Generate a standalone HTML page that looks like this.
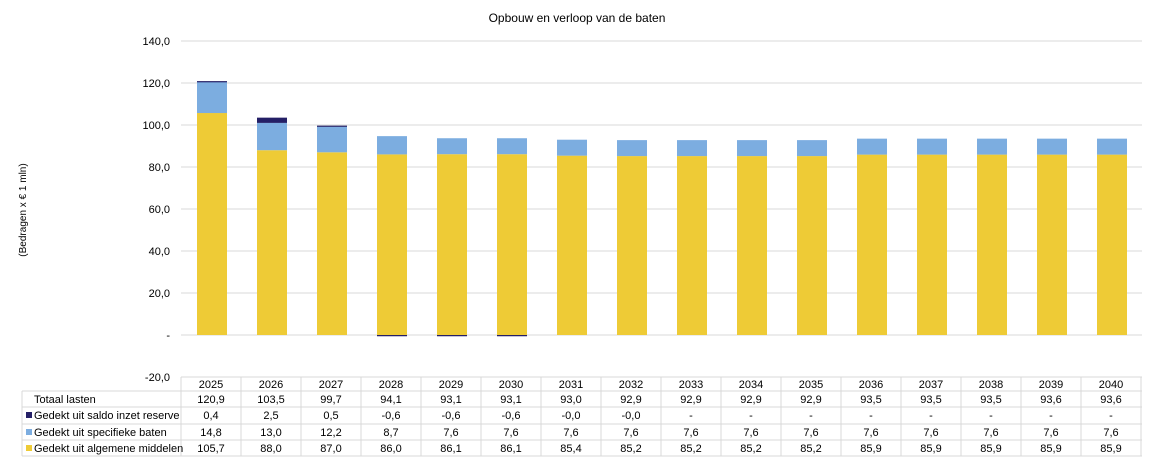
<!DOCTYPE html>
<html><head><meta charset="utf-8"><style>
body{margin:0;background:#fff;}
svg text{font-family:"Liberation Sans",Arial,sans-serif;font-size:11px;fill:#000;}
</style></head><body>
<svg id="s" width="1157" height="464" xmlns="http://www.w3.org/2000/svg">
<rect width="1157" height="464" fill="#fff"/>
<text x="577" y="22" text-anchor="middle" style="font-size:12px">Opbouw  en  verloop  van  de  baten</text>
<text transform="translate(26,210) rotate(-90)" text-anchor="middle" style="font-size:10px">(Bedragen x € 1 mln)</text>
<g id="g"></g>
</svg>
<script>
var yrs=[2025,2026,2027,2028,2029,2030,2031,2032,2033,2034,2035,2036,2037,2038,2039,2040];
var tot=["120,9","103,5","99,7","94,1","93,1","93,1","93,0","92,9","92,9","92,9","92,9","93,5","93,5","93,5","93,6","93,6"];
var res=[0.4,2.5,0.5,-0.6,-0.6,-0.6,-0.0,-0.0,null,null,null,null,null,null,null,null];
var resS=["0,4","2,5","0,5","-0,6","-0,6","-0,6","-0,0","-0,0","-","-","-","-","-","-","-","-"];
var spe=[14.8,13.0,12.2,8.7,7.6,7.6,7.6,7.6,7.6,7.6,7.6,7.6,7.6,7.6,7.6,7.6];
var alg=[105.7,88.0,87.0,86.0,86.1,86.1,85.4,85.2,85.2,85.2,85.2,85.9,85.9,85.9,85.9,85.9];
var h='';var Y=v=>335-v*2.1;
for(var v=140;v>=-20;v-=20){var y=Y(v);
 if(v>0)h+='<line x1="181" x2="1142" y1="'+y+'" y2="'+y+'" stroke="#d9d9d9"/>';
 h+='<text x="170" y="'+(y+4)+'" text-anchor="end">'+(v==0?'-':v.toFixed(1).replace('.',','))+'</text>';}
h+='<line x1="181" x2="1142" y1="335" y2="335" stroke="#d9d9d9"/>';
function f(n){return n.toFixed(1).replace('.',',');}
for(var i=0;i<16;i++){var x=197+i*60;
 var a=alg[i],s=spe[i],r=res[i]||0;
 h+='<rect x="'+x+'" y="'+Y(a)+'" width="30" height="'+(a*2.1)+'" fill="#eecb36"/>';
 h+='<rect x="'+x+'" y="'+Y(a+s)+'" width="30" height="'+(s*2.1)+'" fill="#7cade0"/>';
 if(r>0)h+='<rect x="'+x+'" y="'+Y(a+s+r)+'" width="30" height="'+Math.max(r*2.1,1.2)+'" fill="#241f66"/>';
 if(r<0)h+='<rect x="'+x+'" y="335" width="30" height="'+Math.max(-r*2.1,1.2)+'" fill="#241f66"/>';
}
// table
var rows=[377,391,407,424,440,456];
h+='<line x1="181" x2="1142" y1="377" y2="377" stroke="#d9d9d9"/>';
for(var k=1;k<6;k++)h+='<line x1="22" x2="1142" y1="'+rows[k]+'" y2="'+rows[k]+'" stroke="#d9d9d9"/>';
h+='<line x1="22" x2="22" y1="391" y2="456" stroke="#d9d9d9"/>';
for(var i=0;i<=16;i++){var x=181+i*60;h+='<line x1="'+x+'" x2="'+x+'" y1="377" y2="456" stroke="#d9d9d9"/>';}
var labs=["Totaal lasten","Gedekt uit saldo inzet reserve","Gedekt uit specifieke baten","Gedekt uit algemene middelen"];
var cols=[null,"#241f66","#7cade0","#eecb36"];
for(var k=0;k<4;k++){var ty=rows[k+1]+12;
 if(cols[k])h+='<rect x="26" y="'+(ty-7)+'" width="6" height="6" fill="'+cols[k]+'"/>';
 h+='<text x="'+(k?34:34)+'" y="'+ty+'">'+labs[k]+'</text>';}
for(var i=0;i<16;i++){var cx=211+i*60;
 h+='<text x="'+cx+'" y="388" text-anchor="middle">'+yrs[i]+'</text>';
 var vals=[tot[i],resS[i],f(spe[i]),f(alg[i])];
 for(var k=0;k<4;k++)h+='<text x="'+cx+'" y="'+(rows[k+1]+12)+'" text-anchor="middle">'+vals[k]+'</text>';}
document.getElementById('g').innerHTML=h;
</script>
</body></html>
